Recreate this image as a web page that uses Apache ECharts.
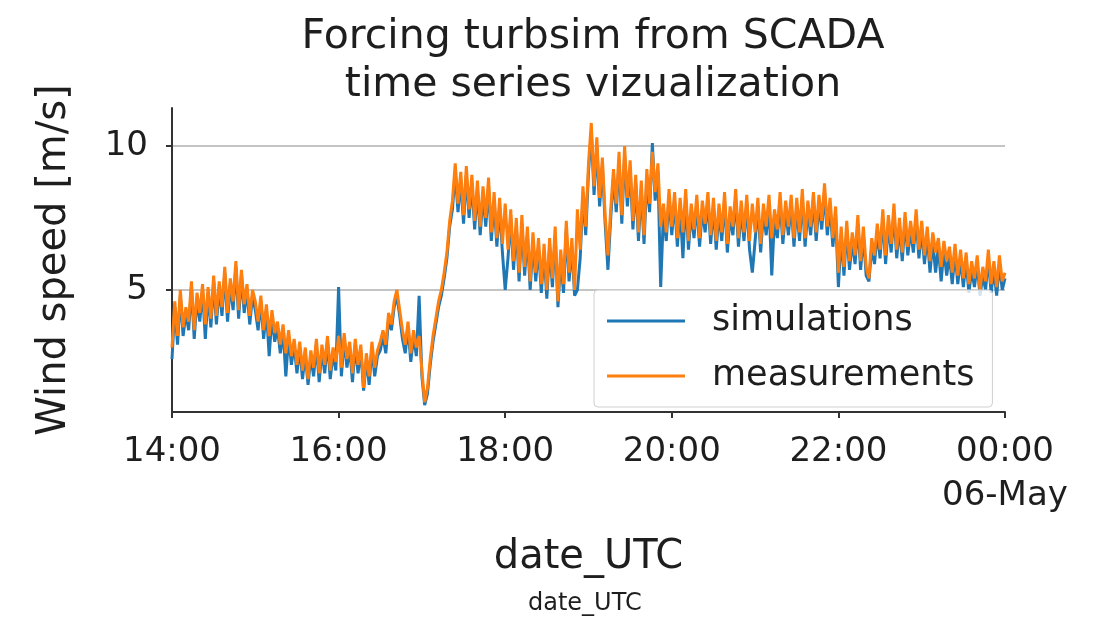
<!DOCTYPE html>
<html>
<head>
<meta charset="utf-8">
<script src="https://cdn.jsdelivr.net/npm/echarts@6/dist/echarts.min.js"></script>
<style>
  html, body { margin: 0; padding: 0; background: #fff; }
  #chart { width: 1096px; height: 619px; }
</style>
</head>
<body>
<div id="chart"></div>
<script>
// one sample every 2 minutes, from 14:00 (minute 0) to 00:00 (minute 600)
const stepMinutes = 2
const tickLabels = ['14:00', '16:00', '18:00', '20:00', '22:00', '00:00\n06-May']

// each row = 30 minutes
const measurements = [
  3.0, 4.6, 3.4, 5.0, 3.7, 4.4, 3.9, 5.3, 3.6, 4.9, 4.2, 5.2, 3.8, 5.1, 4.0,
  5.5, 4.1, 5.3, 4.4, 5.8, 4.2, 5.4, 4.6, 6.0, 4.3, 5.7, 4.5, 5.2, 4.1, 5.0,
  4.6, 3.9, 4.8, 3.6, 4.5, 3.4, 4.3, 3.5, 3.9, 3.1, 3.8, 2.8, 3.6, 2.7, 3.3,
  2.4, 3.2, 2.2, 3.0, 1.9, 2.9, 2.3, 3.3, 2.1, 3.1, 2.4, 3.4, 2.2, 3.0, 2.5,
  3.4, 2.3, 3.5, 2.6, 3.2, 2.1, 3.3, 2.4, 3.1, 1.6, 2.8, 2.0, 3.2, 2.3, 2.9,
  3.2, 3.6, 3.1, 4.2, 3.8, 4.6, 5.0, 4.3, 3.6, 3.1, 3.9, 2.8, 3.6, 3.0, 3.4,
  2.2, 1.1, 1.6, 2.6, 3.4, 4.0, 4.6, 5.0, 5.6, 6.3, 7.4, 8.1, 9.4, 8.0, 9.1,
  7.6, 9.3, 7.8, 9.0, 7.4, 8.8, 7.2, 8.6, 7.5, 8.9, 7.0, 8.4, 6.8, 8.2, 6.6,
  8.0, 6.4, 7.8, 6.0, 7.5, 5.6, 7.6, 5.8, 7.2, 5.3, 7.0, 5.6, 6.8, 5.2, 6.6,
  5.0, 6.8, 5.4, 7.2, 4.6, 6.4, 5.2, 7.4, 5.6, 6.8, 5.0, 7.8, 6.4, 8.6, 7.2,
  9.4, 10.8, 8.6, 10.3, 8.2, 9.6, 7.6, 6.2, 7.8, 9.2, 8.0, 9.8, 7.6, 10.0, 8.2,
  9.5, 7.4, 9.0, 7.0, 8.8, 6.9, 9.2, 8.0, 9.8, 8.4, 9.4, 7.2, 8.0, 7.0, 8.5,
  7.2, 8.4, 6.8, 8.2, 7.0, 8.5, 6.7, 8.0, 7.1, 8.3, 6.8, 8.1, 7.3, 8.4, 6.9,
  8.2, 6.7, 8.0, 7.0, 8.4, 6.6, 7.9, 7.2, 8.5, 6.8, 8.1, 7.0, 8.3, 6.7, 8.0,
  7.0, 8.2, 6.6, 8.0, 7.2, 8.3, 6.8, 7.8, 7.1, 8.4, 6.9, 8.1, 7.2, 8.3, 6.8,
  8.2, 7.0, 8.5, 6.8, 8.1, 7.2, 8.4, 7.0, 8.3, 7.4, 8.7, 7.2, 8.2, 6.8, 7.9,
  5.6, 7.2, 5.8, 7.4, 6.0, 7.0, 6.2, 7.6, 6.0, 7.2, 5.8, 5.4, 6.8, 6.2, 7.3,
  6.4, 7.8, 6.2, 7.6, 6.6, 8.0, 6.4, 7.5, 6.3, 7.7, 6.5, 7.4, 6.6, 7.8, 6.4,
  7.4, 6.2, 7.2, 6.0, 7.0, 6.3, 6.8, 5.8, 6.7, 6.0, 6.5, 5.6, 6.6, 5.5, 6.4,
  5.4, 6.3, 5.2, 6.0, 5.4, 6.2, 5.0, 5.8, 5.3, 6.4, 5.2, 6.0, 5.1, 6.2, 5.3,
  5.6
]

const simulations = [
  2.6, 4.4, 3.1, 4.8, 3.4, 4.2, 3.6, 5.1, 3.3, 4.7, 3.9, 5.0, 3.3, 4.9, 3.7,
  5.3, 3.8, 5.1, 4.1, 5.6, 3.9, 5.2, 4.3, 5.8, 4.0, 5.5, 4.2, 5.0, 3.8, 4.8,
  4.3, 3.6, 4.6, 3.3, 4.3, 2.7, 4.1, 3.2, 3.7, 2.8, 3.6, 2.0, 3.4, 2.4, 3.1,
  2.1, 3.0, 1.9, 2.8, 1.7, 2.7, 2.0, 3.1, 1.8, 2.9, 2.1, 3.2, 1.9, 2.8, 2.2,
  5.1, 2.0, 3.3, 2.3, 3.0, 1.8, 3.1, 2.1, 2.9, 1.5, 2.6, 1.7, 3.0, 2.0, 2.7,
  2.9, 3.4, 2.8, 4.0, 3.6, 4.4, 4.8, 4.1, 3.3, 2.8, 3.7, 2.5, 3.4, 2.7, 4.8,
  2.0, 1.0, 1.4, 2.4, 3.2, 3.8, 4.4, 4.8, 5.4, 6.1, 7.2, 7.8, 9.1, 7.7, 8.8,
  7.3, 9.0, 7.5, 8.7, 7.1, 8.5, 6.9, 8.3, 7.2, 8.6, 6.7, 8.1, 6.5, 7.9, 6.3,
  5.0, 6.1, 7.5, 5.7, 7.2, 5.3, 7.3, 5.5, 6.9, 5.0, 6.7, 5.3, 6.5, 4.9, 6.3,
  4.7, 6.5, 5.1, 6.9, 4.4, 6.1, 4.9, 7.1, 5.3, 6.5, 4.8, 5.0, 6.1, 8.3, 6.9,
  9.1, 10.5, 8.3, 10.0, 7.9, 9.3, 7.3, 5.7, 7.5, 8.9, 7.7, 9.5, 7.3, 9.7, 7.9,
  9.2, 7.1, 8.7, 6.7, 8.5, 6.6, 8.9, 7.7, 10.1, 8.1, 9.1, 5.1, 7.7, 6.7, 8.2,
  6.9, 8.1, 6.5, 7.9, 6.1, 8.2, 6.4, 7.7, 6.8, 8.0, 6.5, 7.8, 7.0, 8.1, 6.6,
  7.9, 6.4, 7.7, 6.7, 8.1, 6.3, 7.6, 6.9, 8.2, 6.5, 7.8, 6.7, 8.0, 6.4, 5.6,
  6.7, 7.9, 6.3, 7.7, 6.9, 8.0, 5.5, 7.5, 6.8, 8.1, 6.6, 7.8, 6.9, 8.0, 6.5,
  7.9, 6.7, 8.2, 6.5, 7.8, 6.9, 8.1, 6.7, 8.0, 7.1, 8.4, 6.9, 7.9, 6.5, 7.6,
  5.1, 6.9, 5.5, 7.1, 5.7, 6.7, 5.9, 7.3, 5.7, 6.9, 5.5, 5.3, 6.5, 5.9, 7.0,
  6.1, 7.5, 5.9, 7.3, 6.3, 7.7, 6.1, 7.2, 6.0, 7.4, 6.2, 7.1, 6.3, 7.5, 6.1,
  7.1, 5.9, 6.9, 5.6, 6.7, 5.6, 6.5, 5.3, 6.4, 5.5, 6.2, 5.2, 6.3, 5.2, 6.1,
  5.1, 6.0, 4.9, 5.7, 5.1, 5.9, 4.8, 5.5, 5.0, 6.1, 4.9, 5.7, 4.8, 5.9, 5.0,
  5.4
]

const toPairs = (values) => values.map((v, i) => [i * stepMinutes, v])

const font = 'DejaVu Sans'
const textColor = '#1e1e1e'
const chart = echarts.init(document.getElementById('chart'))

chart.setOption({
  animation: false,
  backgroundColor: '#fff',
  title: {
    text: 'Forcing turbsim from SCADA\ntime series vizualization',
    left: 588,
    top: 8,
    textAlign: 'center',
    textStyle: {
      fontFamily: font,
      fontSize: 41,
      fontWeight: 'normal',
      lineHeight: 48,
      color: textColor
    }
  },
  grid: {
    left: 172,
    right: 91,
    top: 108,
    bottom: 207
  },
  legend: {
    orient: 'vertical',
    left: 594,
    top: 290,
    padding: [11, 18, 11, 13],
    itemGap: 15,
    itemWidth: 78,
    itemHeight: 3,
    icon: 'rect',
    backgroundColor: 'rgba(255,255,255,0.8)',
    borderColor: '#d0d0d0',
    borderWidth: 1,
    borderRadius: 4,
    textStyle: {
      fontFamily: font,
      fontSize: 35,
      lineHeight: 40,
      color: textColor,
      padding: [0, 0, 0, 22]
    },
    data: ['simulations', 'measurements']
  },
  xAxis: {
    type: 'value',
    min: 0,
    max: 600,
    interval: 120,
    name: 'date_UTC',
    nameLocation: 'middle',
    nameGap: 126,
    nameTextStyle: { fontFamily: font, fontSize: 40, color: textColor },
    axisLine: { lineStyle: { color: '#333', width: 2 } },
    axisTick: { length: 6, lineStyle: { color: '#333', width: 2 } },
    axisLabel: {
      margin: 18,
      fontFamily: font,
      fontSize: 34,
      lineHeight: 44,
      color: textColor,
      formatter: (v) => tickLabels[Math.round(v / 120)]
    },
    splitLine: { show: false }
  },
  yAxis: {
    type: 'value',
    min: 0.76,
    max: 11.32,
    name: 'Wind speed [m/s]',
    nameLocation: 'middle',
    nameGap: 97,
    nameTextStyle: { fontFamily: font, fontSize: 40, color: textColor },
    axisLine: { show: true, lineStyle: { color: '#333', width: 2 } },
    axisTick: { show: true, length: 6, customValues: [5, 10], lineStyle: { color: '#333', width: 2 } },
    axisLabel: {
      margin: 24,
      fontFamily: font,
      fontSize: 34,
      color: textColor,
      customValues: [5, 10]
    },
    splitLine: { show: true, lineStyle: { color: '#b0b0b0', width: 1.5 } }
  },
  graphic: [{
    type: 'text',
    left: 528,
    top: 592,
    style: { text: 'date_UTC', fontFamily: font, fontSize: 24, fill: '#1e1e1e' }
  }],
  series: [
    {
      name: 'simulations',
      type: 'line',
      data: toPairs(simulations),
      showSymbol: false,
      color: '#1f77b4',
      lineStyle: { width: 3 }
    },
    {
      name: 'measurements',
      type: 'line',
      data: toPairs(measurements),
      showSymbol: false,
      color: '#ff7f0e',
      lineStyle: { width: 3 }
    }
  ]
})
</script>
</body>
</html>
